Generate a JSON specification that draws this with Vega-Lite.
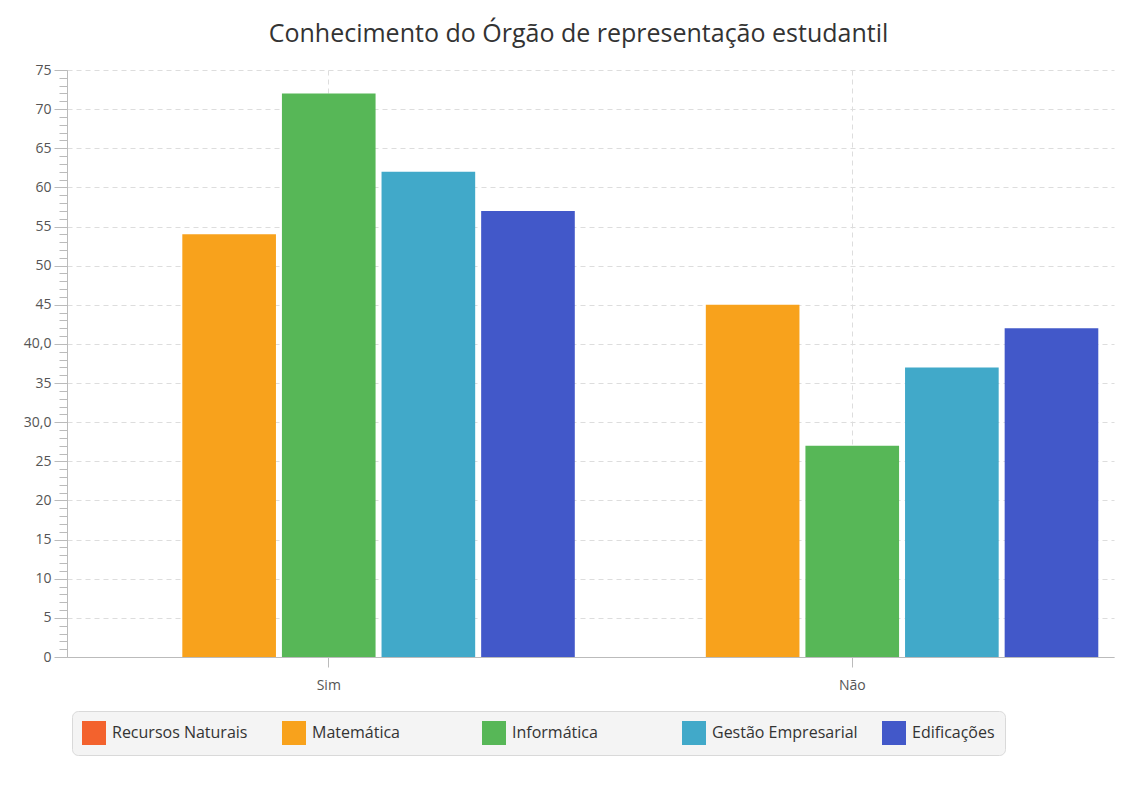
{
  "$schema": "https://vega.github.io/schema/vega-lite/v6.json",
  "autosize": "none",
  "width": 1047,
  "height": 587,
  "padding": {"left": 67, "top": 70, "right": 24, "bottom": 134},
  "background": "white",
  "title": {
    "text": "Conhecimento do Órgão de representação estudantil",
    "font": "Open Sans",
    "fontSize": 25,
    "fontWeight": "normal",
    "color": "#333333",
    "anchor": "middle",
    "frame": "group",
    "dx": -12,
    "offset": 16
  },
  "data": {
    "values": [
      {"resposta": "Sim", "curso": "Recursos Naturais", "valor": 0},
      {"resposta": "Sim", "curso": "Matemática", "valor": 54},
      {"resposta": "Sim", "curso": "Informática", "valor": 72},
      {"resposta": "Sim", "curso": "Gestão Empresarial", "valor": 62},
      {"resposta": "Sim", "curso": "Edificações", "valor": 57},
      {"resposta": "Não", "curso": "Recursos Naturais", "valor": 0},
      {"resposta": "Não", "curso": "Matemática", "valor": 45},
      {"resposta": "Não", "curso": "Informática", "valor": 27},
      {"resposta": "Não", "curso": "Gestão Empresarial", "valor": 37},
      {"resposta": "Não", "curso": "Edificações", "valor": 42}
    ]
  },
  "layer": [
    {
      "mark": {"type": "bar"},
      "encoding": {
        "x": {
          "field": "resposta",
          "type": "nominal",
          "sort": ["Sim", "Não"],
          "scale": {"paddingInner": 0.06, "paddingOuter": 0.03},
          "axis": {
            "title": null,
            "labelAngle": 0,
            "labelFont": "Open Sans",
            "labelFontSize": 14,
            "labelColor": "#555555",
            "labelPadding": 11,
            "tickSize": 10,
            "tickColor": "#bbbbbb",
            "domainColor": "#bbbbbb",
            "grid": true,
            "gridDash": [5, 4],
            "gridColor": "#dddddd",
            "bandPosition": 0.5
          }
        },
        "xOffset": {
          "field": "curso",
          "type": "nominal",
          "sort": ["Recursos Naturais", "Matemática", "Informática", "Gestão Empresarial", "Edificações"],
          "scale": {"paddingInner": 0.06, "paddingOuter": 0}
        },
        "y": {
          "field": "valor",
          "type": "quantitative",
          "scale": {"domain": [0, 75], "nice": false},
          "axis": {
            "title": null,
            "orient": "left",
            "values": [0, 5, 10, 15, 20, 25, 30, 35, 40, 45, 50, 55, 60, 65, 70, 75],
            "labelExpr": "datum.value == 40 ? '40,0' : datum.value == 30 ? '30,0' : datum.label",
            "labelFont": "Open Sans",
            "labelFontSize": 14,
            "labelColor": "#555555",
            "labelPadding": 3,
            "tickSize": 13,
            "tickColor": "#bbbbbb",
            "domainColor": "#bbbbbb",
            "grid": true,
            "gridDash": [5, 4],
            "gridColor": "#dddddd"
          }
        },
        "color": {
          "field": "curso",
          "type": "nominal",
          "sort": ["Recursos Naturais", "Matemática", "Informática", "Gestão Empresarial", "Edificações"],
          "scale": {
            "domain": ["Recursos Naturais", "Matemática", "Informática", "Gestão Empresarial", "Edificações"],
            "range": ["#f3622d", "#f8a21c", "#57b757", "#41a9c9", "#4258c9"]
          },
          "legend": {
            "title": null,
            "orient": "none",
            "legendX": 5,
            "legendY": 641,
            "direction": "horizontal",
            "columns": 5,
            "gridAlign": "all",
            "symbolType": "square",
            "symbolSize": 576,
            "symbolStrokeWidth": 0,
            "symbolOpacity": 1,
            "labelFont": "Open Sans",
            "labelFontSize": 16,
            "labelColor": "#333333",
            "labelLimit": 300,
            "labelOffset": 6,
            "columnPadding": 24,
            "padding": 10,
            "fillColor": "#f4f4f4",
            "strokeColor": "#d9d9d9",
            "cornerRadius": 6
          }
        }
      }
    },
    {
      "mark": {"type": "bar", "opacity": 0},
      "encoding": {
        "x": {"field": "resposta", "type": "nominal", "sort": ["Sim", "Não"]},
        "xOffset": {
          "field": "curso",
          "type": "nominal",
          "sort": ["Recursos Naturais", "Matemática", "Informática", "Gestão Empresarial", "Edificações"]
        },
        "y": {
          "field": "valor",
          "type": "quantitative",
          "axis": {
            "title": null,
            "orient": "left",
            "values": [0,1,2,3,4,5,6,7,8,9,10,11,12,13,14,15,16,17,18,19,20,21,22,23,24,25,26,27,28,29,30,31,32,33,34,35,36,37,38,39,40,41,42,43,44,45,46,47,48,49,50,51,52,53,54,55,56,57,58,59,60,61,62,63,64,65,66,67,68,69,70,71,72,73,74,75],
            "labels": false,
            "tickSize": 8,
            "tickColor": "#bbbbbb",
            "domain": false,
            "grid": false
          }
        }
      }
    }
  ],
  "resolve": {"axis": {"y": "independent"}},
  "config": {"view": {"stroke": null}}
}
